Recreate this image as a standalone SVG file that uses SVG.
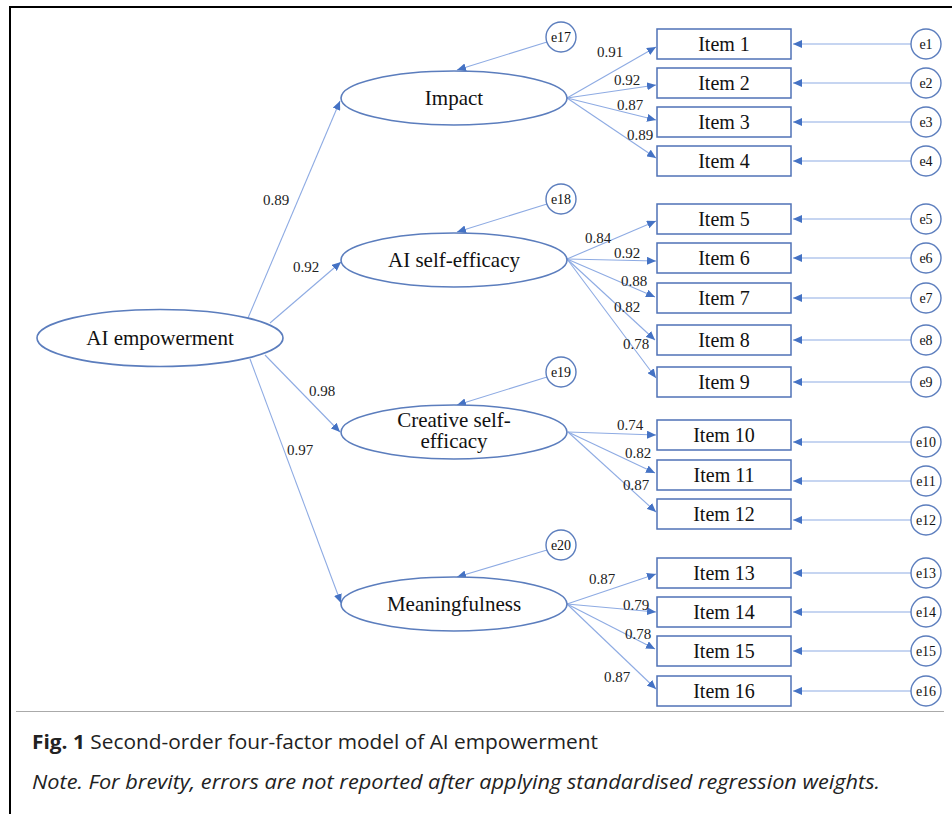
<svg xmlns="http://www.w3.org/2000/svg" width="952" height="814" viewBox="0 0 952 814">
<defs>
<marker id="ah" markerUnits="userSpaceOnUse" markerWidth="10" markerHeight="8" refX="9" refY="4" orient="auto">
<path d="M0,0 L9,4 L0,8 Z" fill="#4472c4"/>
</marker>
<style>
.ell{fill:#fff;stroke:#5b7dbd;stroke-width:1.6}
.box{fill:#fff;stroke:#4f72b6;stroke-width:1.5}
.err{fill:#fff;stroke:#5b7dbd;stroke-width:1.4}
.ln{stroke:#8eabe3;stroke-width:1.1;fill:none;marker-end:url(#ah)}
.lt{font-family:"Liberation Serif","Times New Roman",serif;font-size:21px;fill:#111;text-anchor:middle}
.it{font-family:"Liberation Serif","Times New Roman",serif;font-size:20px;fill:#111;text-anchor:middle}
.et{font-family:"Liberation Serif","Times New Roman",serif;font-size:14px;fill:#111;text-anchor:middle}
.nt{font-family:"Liberation Serif","Times New Roman",serif;font-size:15px;fill:#222;text-anchor:middle}
.cap{font-family:"Open Sans",sans-serif;font-size:20px;fill:#222}
</style>
</defs>
<rect width="952" height="814" fill="#fff"/>
<path d="M10,814 V7 H952" fill="none" stroke="#000" stroke-width="2"/>
<line x1="16" y1="711.5" x2="944" y2="711.5" stroke="#aaa" stroke-width="1"/>

<g id="connectors">
<line class="ln" x1="248" y1="318" x2="340" y2="101"/>
<line class="ln" x1="270" y1="323" x2="341" y2="262"/>
<line class="ln" x1="265" y1="355" x2="340" y2="432"/>
<line class="ln" x1="250" y1="359" x2="341" y2="603"/>
<line class="ln" x1="547" y1="42" x2="457" y2="70"/>
<line class="ln" x1="547" y1="204" x2="457" y2="232"/>
<line class="ln" x1="547" y1="377" x2="457" y2="405"/>
<line class="ln" x1="547" y1="550" x2="457" y2="577"/>
<line class="ln" x1="567" y1="98" x2="656" y2="47"/>
<line class="ln" x1="567" y1="98" x2="656" y2="85"/>
<line class="ln" x1="567" y1="98" x2="656" y2="120"/>
<line class="ln" x1="567" y1="98" x2="656" y2="158"/>
<line class="ln" x1="567" y1="259" x2="656" y2="221"/>
<line class="ln" x1="567" y1="259" x2="656" y2="261"/>
<line class="ln" x1="567" y1="259" x2="655" y2="297"/>
<line class="ln" x1="567" y1="259" x2="655" y2="340"/>
<line class="ln" x1="567" y1="259" x2="656" y2="378"/>
<line class="ln" x1="568" y1="432" x2="656" y2="435"/>
<line class="ln" x1="568" y1="432" x2="655" y2="473"/>
<line class="ln" x1="568" y1="432" x2="656" y2="512"/>
<line class="ln" x1="567" y1="604" x2="656" y2="574"/>
<line class="ln" x1="567" y1="604" x2="656" y2="612"/>
<line class="ln" x1="567" y1="604" x2="655" y2="649"/>
<line class="ln" x1="567" y1="604" x2="656" y2="689"/>
<line class="ln" x1="911" y1="44" x2="793" y2="44"/>
<line class="ln" x1="911" y1="83" x2="793" y2="83"/>
<line class="ln" x1="911" y1="122" x2="793" y2="122"/>
<line class="ln" x1="911" y1="161" x2="793" y2="161"/>
<line class="ln" x1="911" y1="219" x2="793" y2="219"/>
<line class="ln" x1="911" y1="258" x2="793" y2="258"/>
<line class="ln" x1="911" y1="298" x2="793" y2="298"/>
<line class="ln" x1="911" y1="340" x2="793" y2="340"/>
<line class="ln" x1="911" y1="382" x2="793" y2="382"/>
<line class="ln" x1="911" y1="442" x2="793" y2="442"/>
<line class="ln" x1="911" y1="481" x2="793" y2="481"/>
<line class="ln" x1="911" y1="520" x2="793" y2="520"/>
<line class="ln" x1="911" y1="573" x2="793" y2="573"/>
<line class="ln" x1="911" y1="612" x2="793" y2="612"/>
<line class="ln" x1="911" y1="651" x2="793" y2="651"/>
<line class="ln" x1="911" y1="691" x2="793" y2="691"/>
</g>

<g id="labels">
<text class="nt" x="276" y="205">0.89</text>
<text class="nt" x="306" y="272">0.92</text>
<text class="nt" x="322" y="396">0.98</text>
<text class="nt" x="300" y="455">0.97</text>
<text class="nt" x="610" y="57">0.91</text>
<text class="nt" x="627" y="85">0.92</text>
<text class="nt" x="630" y="110">0.87</text>
<text class="nt" x="640" y="140">0.89</text>
<text class="nt" x="598" y="243">0.84</text>
<text class="nt" x="627" y="258">0.92</text>
<text class="nt" x="634" y="286">0.88</text>
<text class="nt" x="627" y="312">0.82</text>
<text class="nt" x="636" y="349">0.78</text>
<text class="nt" x="630" y="430">0.74</text>
<text class="nt" x="638" y="458">0.82</text>
<text class="nt" x="636" y="490">0.87</text>
<text class="nt" x="602" y="584">0.87</text>
<text class="nt" x="636" y="610">0.79</text>
<text class="nt" x="638" y="639">0.78</text>
<text class="nt" x="617" y="682">0.87</text>
</g>

<g id="n-ai-empowerment"><ellipse class="ell" cx="160" cy="338" rx="123" ry="28.5"/><text class="lt" x="160" y="345">AI empowerment</text></g>
<g id="n-impact"><ellipse class="ell" cx="454" cy="98" rx="113" ry="27"/><text class="lt" x="454" y="105">Impact</text></g>
<g id="n-ai-self-efficacy"><ellipse class="ell" cx="454" cy="260" rx="113" ry="27"/><text class="lt" x="454" y="267">AI self-efficacy</text></g>
<g id="n-creative"><ellipse class="ell" cx="454" cy="432" rx="113" ry="27"/><text class="lt" x="454" y="427" font-size="20">Creative self-<tspan x="454" dy="21">efficacy</tspan></text></g>
<g id="n-meaningfulness"><ellipse class="ell" cx="454" cy="604" rx="113" ry="27"/><text class="lt" x="454" y="611">Meaningfulness</text></g>

<g id="n-e17"><circle class="err" cx="561" cy="37" r="15"/><text class="et" x="561" y="42">e17</text></g>
<g id="n-e18"><circle class="err" cx="561" cy="199" r="15"/><text class="et" x="561" y="204">e18</text></g>
<g id="n-e19"><circle class="err" cx="561" cy="372" r="15"/><text class="et" x="561" y="377">e19</text></g>
<g id="n-e20"><circle class="err" cx="561" cy="545" r="15"/><text class="et" x="561" y="550">e20</text></g>

<g id="n-item1"><rect class="box" x="657" y="29" width="134" height="30"/><text class="it" x="724" y="51">Item 1</text></g>
<g id="n-item2"><rect class="box" x="657" y="68" width="134" height="30"/><text class="it" x="724" y="90">Item 2</text></g>
<g id="n-item3"><rect class="box" x="657" y="107" width="134" height="30"/><text class="it" x="724" y="129">Item 3</text></g>
<g id="n-item4"><rect class="box" x="657" y="146" width="134" height="30"/><text class="it" x="724" y="168">Item 4</text></g>
<g id="n-item5"><rect class="box" x="657" y="204" width="134" height="30"/><text class="it" x="724" y="226">Item 5</text></g>
<g id="n-item6"><rect class="box" x="657" y="243" width="134" height="30"/><text class="it" x="724" y="265">Item 6</text></g>
<g id="n-item7"><rect class="box" x="657" y="283" width="134" height="30"/><text class="it" x="724" y="305">Item 7</text></g>
<g id="n-item8"><rect class="box" x="657" y="325" width="134" height="30"/><text class="it" x="724" y="347">Item 8</text></g>
<g id="n-item9"><rect class="box" x="657" y="367" width="134" height="30"/><text class="it" x="724" y="389">Item 9</text></g>
<g id="n-item10"><rect class="box" x="657" y="420" width="134" height="30"/><text class="it" x="724" y="442">Item 10</text></g>
<g id="n-item11"><rect class="box" x="657" y="460" width="134" height="30"/><text class="it" x="724" y="482">Item 11</text></g>
<g id="n-item12"><rect class="box" x="657" y="499" width="134" height="30"/><text class="it" x="724" y="521">Item 12</text></g>
<g id="n-item13"><rect class="box" x="657" y="558" width="134" height="30"/><text class="it" x="724" y="580">Item 13</text></g>
<g id="n-item14"><rect class="box" x="657" y="597" width="134" height="30"/><text class="it" x="724" y="619">Item 14</text></g>
<g id="n-item15"><rect class="box" x="657" y="636" width="134" height="30"/><text class="it" x="724" y="658">Item 15</text></g>
<g id="n-item16"><rect class="box" x="657" y="676" width="134" height="30"/><text class="it" x="724" y="698">Item 16</text></g>

<g id="n-e1"><circle class="err" cx="926" cy="44" r="15"/><text class="et" x="926" y="49">e1</text></g>
<g id="n-e2"><circle class="err" cx="926" cy="83" r="15"/><text class="et" x="926" y="88">e2</text></g>
<g id="n-e3"><circle class="err" cx="926" cy="122" r="15"/><text class="et" x="926" y="127">e3</text></g>
<g id="n-e4"><circle class="err" cx="926" cy="161" r="15"/><text class="et" x="926" y="166">e4</text></g>
<g id="n-e5"><circle class="err" cx="926" cy="219" r="15"/><text class="et" x="926" y="224">e5</text></g>
<g id="n-e6"><circle class="err" cx="926" cy="258" r="15"/><text class="et" x="926" y="263">e6</text></g>
<g id="n-e7"><circle class="err" cx="926" cy="298" r="15"/><text class="et" x="926" y="303">e7</text></g>
<g id="n-e8"><circle class="err" cx="926" cy="340" r="15"/><text class="et" x="926" y="345">e8</text></g>
<g id="n-e9"><circle class="err" cx="926" cy="382" r="15"/><text class="et" x="926" y="387">e9</text></g>
<g id="n-e10"><circle class="err" cx="926" cy="442" r="15"/><text class="et" x="926" y="447">e10</text></g>
<g id="n-e11"><circle class="err" cx="926" cy="481" r="15"/><text class="et" x="926" y="486">e11</text></g>
<g id="n-e12"><circle class="err" cx="926" cy="520" r="15"/><text class="et" x="926" y="525">e12</text></g>
<g id="n-e13"><circle class="err" cx="926" cy="573" r="15"/><text class="et" x="926" y="578">e13</text></g>
<g id="n-e14"><circle class="err" cx="926" cy="612" r="15"/><text class="et" x="926" y="617">e14</text></g>
<g id="n-e15"><circle class="err" cx="926" cy="651" r="15"/><text class="et" x="926" y="656">e15</text></g>
<g id="n-e16"><circle class="err" cx="926" cy="691" r="15"/><text class="et" x="926" y="696">e16</text></g>

<g id="caption">
<text class="cap" x="32" y="749" textLength="566" lengthAdjust="spacingAndGlyphs"><tspan font-weight="bold">Fig. 1</tspan> Second-order four-factor model of AI empowerment</text>
<text class="cap" x="32" y="789" font-style="italic" textLength="848" lengthAdjust="spacingAndGlyphs">Note. For brevity, errors are not reported after applying standardised regression weights.</text>
</g>
</svg>
